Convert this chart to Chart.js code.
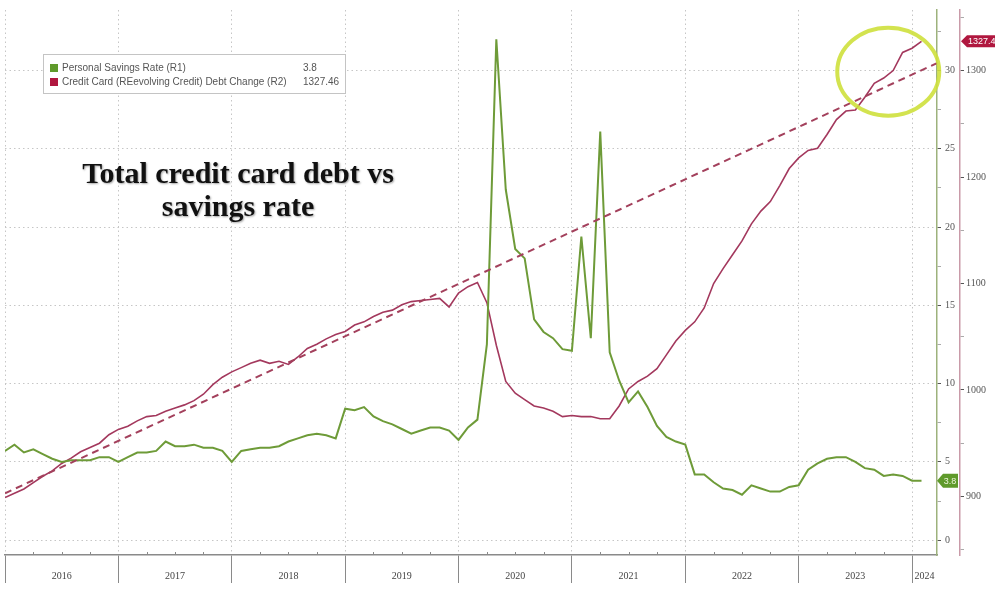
<!DOCTYPE html>
<html>
<head>
<meta charset="utf-8">
<script src="https://cdn.jsdelivr.net/npm/chart.js@4.4.1/dist/chart.umd.min.js"></script>
<style>
  html, body { margin: 0; padding: 0; background: #fff; }
  #wrap { width: 995px; height: 592px; }
</style>
</head>
<body>
<div id="wrap"><canvas id="chart" width="995" height="592"></canvas></div>
<script>
// monthly, month-end points from Dec 2015 to Jan 2024 (x = 2016.0 is end of Dec 2015)
const startX = 2016;

const savingsRate = [
  5.7,
  6.1, 5.6, 5.8, 5.5, 5.2, 5.0, 5.1, 5.1, 5.1, 5.3, 5.3, 5.0,
  5.3, 5.6, 5.6, 5.7, 6.3, 6.0, 6.0, 6.1, 5.9, 5.9, 5.7, 5.0,
  5.7, 5.8, 5.9, 5.9, 6.0, 6.3, 6.5, 6.7, 6.8, 6.7, 6.5, 8.4,
  8.3, 8.5, 7.9, 7.6, 7.4, 7.1, 6.8, 7.0, 7.2, 7.2, 7.0, 6.4,
  7.2, 7.7, 12.5, 32.0, 22.4, 18.6, 18.0, 14.1, 13.3, 12.9, 12.2, 12.1,
  19.4, 12.9, 26.1, 12.0, 10.2, 8.8, 9.5, 8.5, 7.3, 6.6, 6.3, 6.1,
  4.2, 4.2, 3.7, 3.3, 3.2, 2.9, 3.5, 3.3, 3.1, 3.1, 3.4, 3.5,
  4.5, 4.9, 5.2, 5.3, 5.3, 5.0, 4.6, 4.5, 4.1, 4.2, 4.1, 3.8,
  3.8
];

const cardDebt = [
  899,
  903, 907, 913, 919, 924, 931, 936, 942, 946, 950, 958, 963,
  966, 971, 975, 976, 980, 983, 986, 990, 996, 1005, 1012, 1017,
  1021, 1025, 1028, 1025, 1027, 1024, 1031, 1039, 1043, 1048, 1052, 1055,
  1061, 1064, 1069, 1073, 1075, 1080, 1083, 1084, 1085, 1086, 1078, 1091,
  1097, 1101, 1082, 1042, 1008, 997, 991, 985, 983, 980, 975, 976,
  975, 975, 973, 973, 985, 1001, 1008, 1013, 1020, 1033, 1046, 1056,
  1064, 1077, 1100, 1114, 1127, 1140, 1156, 1168, 1177, 1192, 1208, 1218,
  1225, 1227, 1240, 1254, 1262, 1263, 1275, 1288, 1293, 1300, 1317, 1321,
  1327.46
];

// dashed trend line end points (right axis)
const trendX = [2016.0, 2024.22];
const trendY = [903, 1307];

const yearLabels = ['2016', '2017', '2018', '2019', '2020', '2021', '2022', '2023', '2024'];
const seriesNames = ['Personal Savings Rate (R1)', 'Credit Card (REevolving Credit) Debt Change (R2)'];
const lastLabels = ['3.8', '1327.46'];
const titleLines = ['Total credit card debt vs', 'savings rate'];

const xMin = 2016, xMax = 2024.22;
const r1Min = -0.95, r1Max = 33.87;
const r2Min = 845, r2Max = 1356.9;

const green = '#6e9b38';
const red = '#a3385d';
const gridCol = '#c6c6c6';

const savingsPts = savingsRate.map((v, i) => ({x: startX + i / 12, y: v}));
const debtPts = cardDebt.map((v, i) => ({x: startX + i / 12, y: v}));
const trendPts = trendX.map((x, i) => ({x: x, y: trendY[i]}));

const yearMid = {};
yearLabels.forEach(l => {
  const y = +l;
  const c = (Math.max(y, xMin) + Math.min(y + 1, xMax)) / 2;
  yearMid[c.toFixed(4)] = l;
});

function isMajor(v, step) {
  return Math.abs(v / step - Math.round(v / step)) < 1e-6;
}

const overlay = {
  id: 'overlay',
  afterDatasetsDraw(chart) {
    const ctx = chart.ctx;
    const sx = chart.scales.x, s2 = chart.scales.y2;
    // highlight ellipse round the latest debt values
    const cx = sx.getPixelForValue(2023.79);
    const cy = s2.getPixelForValue(1299);
    ctx.save();
    ctx.strokeStyle = 'rgba(206, 224, 60, 0.9)';
    ctx.lineWidth = 4;
    ctx.beginPath();
    ctx.ellipse(cx, cy, 51, 44, 0, 0, Math.PI * 2);
    ctx.stroke();
    ctx.restore();
  },
  afterDraw(chart) {
    const ctx = chart.ctx;
    const sx = chart.scales.x, s1 = chart.scales.y, s2 = chart.scales.y2;

    // quarterly minor ticks above the time axis
    ctx.save();
    ctx.strokeStyle = '#8a8a8a';
    ctx.lineWidth = 1;
    for (let q = xMin; q < xMax; q += 0.25) {
      if (Number.isInteger(q)) continue;
      const px = Math.round(sx.getPixelForValue(q)) + 0.5;
      ctx.beginPath();
      ctx.moveTo(px, sx.top - 3);
      ctx.lineTo(px, sx.top);
      ctx.stroke();
    }
    ctx.restore();

    // last value tags
    ctx.save();
    let y = s1.getPixelForValue(savingsRate[savingsRate.length - 1]);
    let l = s1.left;
    ctx.fillStyle = '#5f9a2b';
    ctx.beginPath();
    ctx.moveTo(l, y);
    ctx.lineTo(l + 6, y - 7);
    ctx.lineTo(l + 21, y - 7);
    ctx.lineTo(l + 21, y + 7);
    ctx.lineTo(l + 6, y + 7);
    ctx.closePath();
    ctx.fill();
    ctx.fillStyle = '#eef7dc';
    ctx.font = '9px "Liberation Sans"';
    ctx.textAlign = 'center';
    ctx.textBaseline = 'middle';
    ctx.fillText(lastLabels[0], l + 13, y + 0.5);

    y = s2.getPixelForValue(cardDebt[cardDebt.length - 1]);
    l = s2.left + 1;
    ctx.fillStyle = '#b0173f';
    ctx.beginPath();
    ctx.moveTo(l, y);
    ctx.lineTo(l + 6, y - 6);
    ctx.lineTo(l + 40, y - 6);
    ctx.lineTo(l + 40, y + 6);
    ctx.lineTo(l + 6, y + 6);
    ctx.closePath();
    ctx.fill();
    ctx.fillStyle = '#ffffff';
    ctx.textAlign = 'left';
    ctx.fillText(lastLabels[1], l + 7, y + 0.5);
    ctx.restore();

    // legend box
    ctx.save();
    ctx.fillStyle = '#ffffff';
    ctx.fillRect(43, 54, 302, 39);
    ctx.strokeStyle = '#c4c4c4';
    ctx.lineWidth = 1;
    ctx.strokeRect(43.5, 54.5, 302, 39);
    const cols = ['#5f9a2b', '#b0173f'];
    ctx.font = '10px "Liberation Sans"';
    ctx.textBaseline = 'middle';
    for (let i = 0; i < 2; i++) {
      const ry = 68 + i * 14;
      ctx.fillStyle = cols[i];
      ctx.fillRect(50, ry - 4, 8, 8);
      ctx.fillStyle = '#555';
      ctx.fillText(seriesNames[i], 62, ry);
      ctx.fillText(lastLabels[i], 303, ry);
    }
    ctx.restore();

    // title text
    ctx.save();
    ctx.font = 'bold 30px "Liberation Serif"';
    ctx.textAlign = 'center';
    ctx.textBaseline = 'middle';
    ctx.shadowColor = 'rgba(0,0,0,0.35)';
    ctx.shadowBlur = 2;
    ctx.shadowOffsetX = 1;
    ctx.shadowOffsetY = 1;
    ctx.fillStyle = '#111';
    ctx.fillText(titleLines[0], 238, 175);
    ctx.fillText(titleLines[1], 238, 208);
    ctx.restore();
  }
};

new Chart(document.getElementById('chart'), {
  type: 'line',
  data: {
    datasets: [
      {
        label: seriesNames[1],
        data: debtPts,
        yAxisID: 'y2',
        borderColor: red,
        borderWidth: 1.6,
        pointRadius: 0,
        tension: 0,
        order: 3
      },
      {
        label: seriesNames[0],
        data: savingsPts,
        yAxisID: 'y',
        borderColor: green,
        borderWidth: 2,
        pointRadius: 0,
        tension: 0,
        order: 2
      },
      {
        label: 'trend',
        data: trendPts,
        yAxisID: 'y2',
        borderColor: '#a3405c',
        borderWidth: 2,
        borderDash: [7, 5],
        pointRadius: 0,
        order: 1
      }
    ]
  },
  options: {
    responsive: false,
    devicePixelRatio: 1,
    animation: false,
    layout: { padding: { left: 5, top: 6, right: 0, bottom: 0 } },
    plugins: {
      legend: { display: false },
      tooltip: { enabled: false },
      title: { display: false }
    },
    scales: {
      x: {
        type: 'linear',
        min: xMin,
        max: xMax,
        afterBuildTicks: s => {
          const t = [];
          yearLabels.forEach(l => t.push({value: +l}));
          Object.keys(yearMid).forEach(k => t.push({value: +k}));
          t.sort((a, b) => a.value - b.value);
          s.ticks = t;
        },
        afterFit: s => { s.height = 37; },
        ticks: {
          autoSkip: false,
          maxRotation: 0,
          padding: -13,
          color: '#444',
          font: { family: 'Liberation Serif', size: 10 },
          callback: v => yearMid[(+v).toFixed(4)] || ''
        },
        grid: {
          color: c => Number.isInteger(c.tick.value) ? gridCol : 'rgba(0,0,0,0)',
          tickColor: c => Number.isInteger(c.tick.value) ? '#8a8a8a' : 'rgba(0,0,0,0)',
          tickLength: 28,
          lineWidth: 1,
          tickBorderDash: []
        },
        border: { display: true, color: '#8a8a8a', width: 1.5, dash: [1.5, 3] }
      },
      y: {
        type: 'linear',
        position: 'right',
        weight: 0,
        min: r1Min,
        max: r1Max,
        afterBuildTicks: s => {
          const t = [];
          for (let v = 0; v <= 32.5; v += 2.5) t.push({value: v});
          s.ticks = t;
        },
        afterFit: s => { s.width = 23; },
        ticks: {
          padding: 4,
          color: '#555',
          font: { family: 'Liberation Serif', size: 10 },
          callback: v => isMajor(v, 5) ? String(v) : ''
        },
        grid: {
          color: c => isMajor(c.tick.value, 5) ? gridCol : 'rgba(0,0,0,0)',
          tickColor: c => isMajor(c.tick.value, 5) ? '#555' : '#aaa',
          tickLength: 4,
          tickBorderDash: []
        },
        border: { display: true, color: '#9db27c', width: 1.5, dash: [1.5, 3] }
      },
      y2: {
        type: 'linear',
        position: 'right',
        weight: 1,
        min: r2Min,
        max: r2Max,
        afterBuildTicks: s => {
          const t = [];
          for (let v = 850; v <= 1350; v += 50) t.push({value: v});
          s.ticks = t;
        },
        afterFit: s => { s.width = 35; },
        ticks: {
          padding: 2,
          color: '#555',
          font: { family: 'Liberation Serif', size: 10 },
          callback: v => isMajor(v, 100) ? String(v) : ''
        },
        grid: {
          drawOnChartArea: false,
          tickColor: c => isMajor(c.tick.value, 100) ? '#555' : '#aaa',
          tickLength: 4
        },
        border: { display: true, color: '#c99aa8', width: 1.5 }
      }
    }
  },
  plugins: [overlay]
});
</script>
</body>
</html>
